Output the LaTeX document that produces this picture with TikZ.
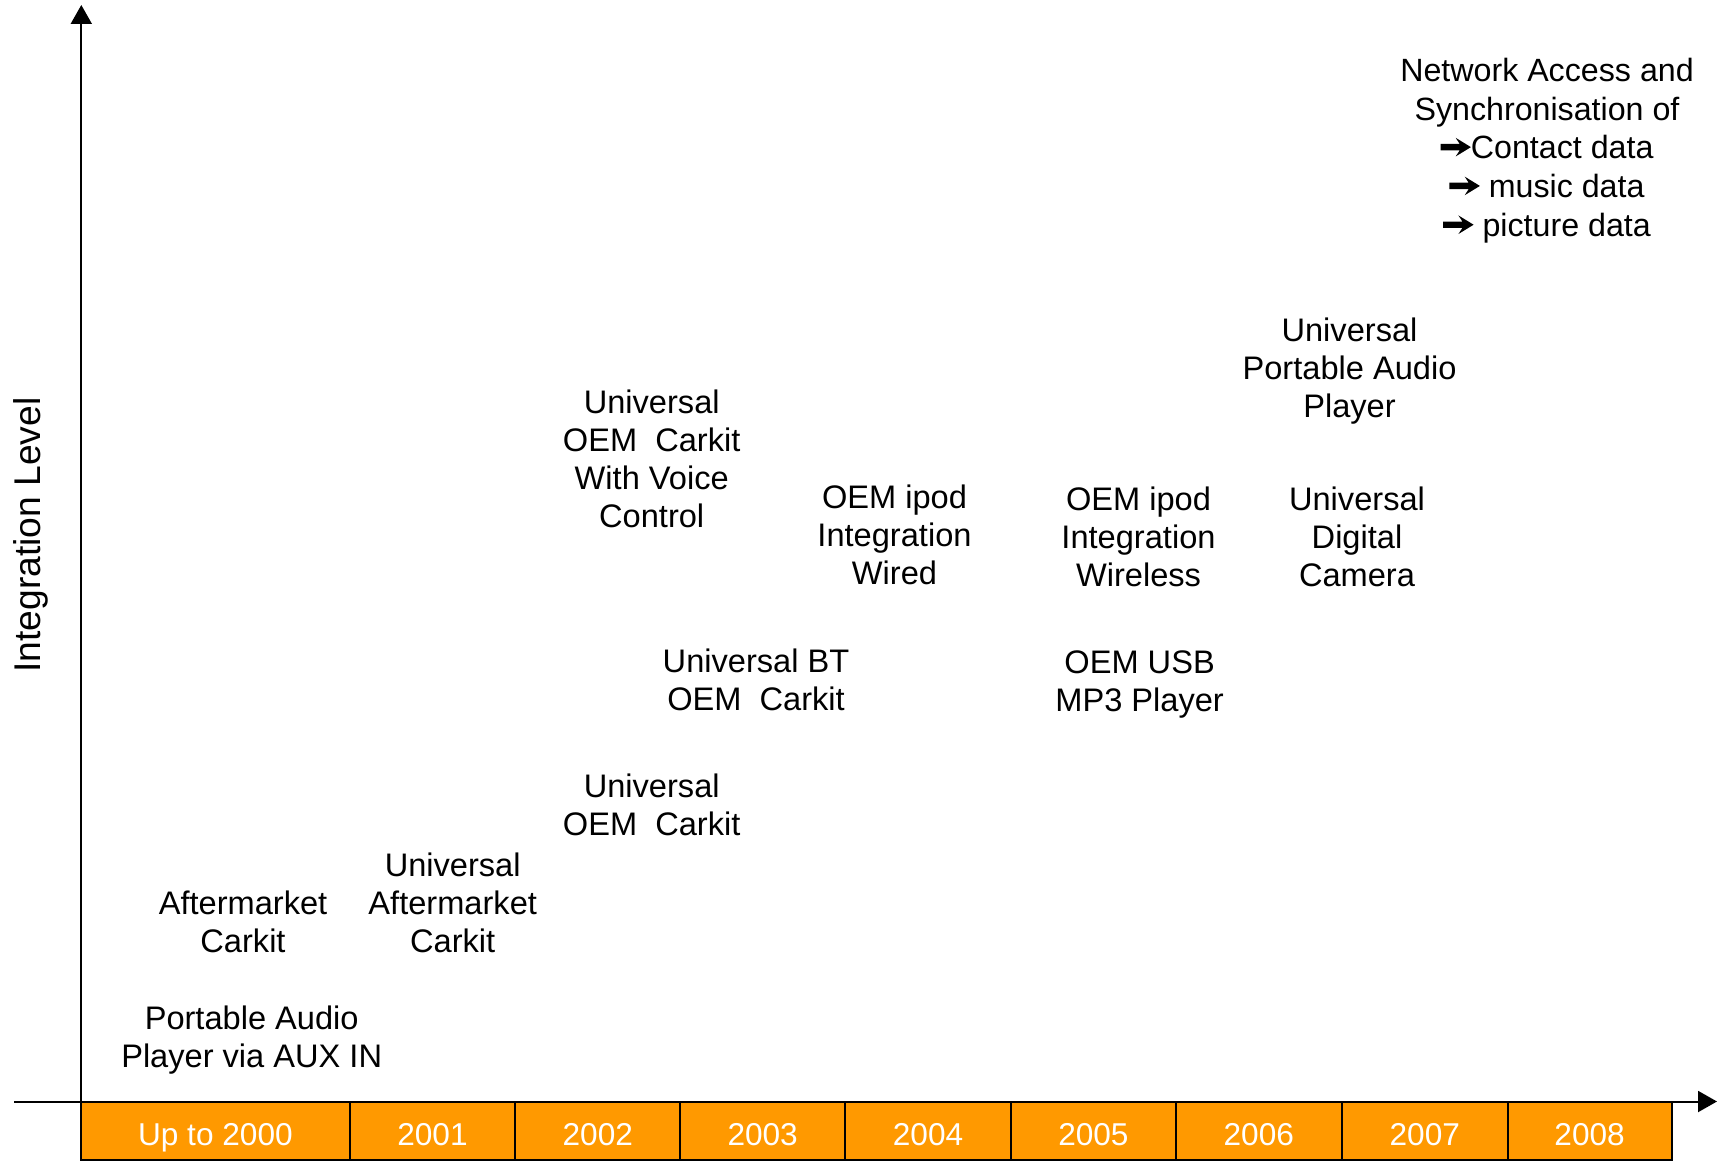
\documentclass[tikz,border=0pt]{standalone}
\usepackage{fontspec}
\setmainfont{Liberation Sans}
\usetikzlibrary{arrows.meta}
\definecolor{barorange}{HTML}{FF9900}
\tikzset{
  lbl/.style={align=center, inner sep=0pt, font=\fontsize{16.3}{19}\selectfont},
  yr/.style={inner sep=0pt, text=white, text height=0.72em, text depth=0pt, font=\fontsize{15.8}{19}\selectfont},
  axis/.style={line width=1pt, -{Triangle[length=9.5pt,width=10.5pt]}},
  cell/.style={fill=barorange, draw=black, line width=1pt}
}
\newcommand{\harr}{\tikz[baseline=0pt]{\fill[black] (0pt,4.25pt) -- (9.6pt,4.25pt) -- (7.6pt,1.2pt) -- (15.2pt,5.85pt) -- (7.6pt,10.5pt) -- (9.6pt,7.45pt) -- (0pt,7.45pt) -- cycle;}}
\begin{document}
\begin{tikzpicture}[x=0.5pt,y=-0.5pt]
\useasboundingbox (0,0) rectangle (1723,1161);
% bar
\foreach \a/\b/\t/\n in {81.3/349.5/Up to 2000/c0, 349.5/515.4/2001/c1, 515.4/680.2/2002/c2, 680.2/845.1/2003/c3, 845.1/1011/2004/c4, 1011/1175.8/2005/c5, 1175.8/1341.8/2006/c6, 1341.8/1507.7/2007/c7, 1507.7/1671.5/2008/c8}{
  \draw[cell] (\a,1101.5) rectangle (\b,1160);
  \node[yr] (\n) at ({(\a+\b)/2},1138) {\t};
}
% axes
\coordinate (o) at (81.3,1101.5);
\coordinate (xs) at (14,1101.5);
\coordinate (xe) at (1717,1101.5);
\coordinate (ye) at (81.3,5);
\draw[axis] (xs) -- (xe);
\draw[axis] (o) -- (ye);
\node[inner sep=0pt, rotate=90, font=\fontsize{18.6}{22}\selectfont] (ylab) at (31,535) {Integration Level};
% labels
\node[lbl] (pap) at (251.7,1040) {Portable Audio\\Player via AUX IN};
\node[lbl] (amc) at (243,921.8) {Aftermarket\\Carkit};
\node[lbl] (uamc) at (452.7,903) {Universal\\Aftermarket\\Carkit};
\node[lbl] (uoc) at (651.7,804.4) {Universal\\OEM\ \ Carkit};
\node[lbl] (ubt) at (756,680) {Universal BT\\OEM\ \ Carkit};
\node[lbl] (uvc) at (651.7,458.8) {Universal\\OEM\ \ Carkit\\With Voice\\Control};
\node[lbl] (ipw) at (894.5,535) {OEM ipod\\Integration\\Wired};
\node[lbl] (ipwl) at (1138.5,537) {OEM ipod\\Integration\\Wireless};
\node[lbl] (usb) at (1139.6,684) {OEM USB\\MP3 Player};
\node[lbl] (udc) at (1357,537) {Universal\\Digital\\Camera};
\node[lbl] (upap) at (1349.5,371.5) {Universal\\Portable Audio\\Player};
\node[lbl, font=\fontsize{16.1}{19.4}\selectfont] (net) at (1547,150.5) {Network Access and\\Synchronisation of\\\harr Contact data\\\harr\ music data\\\harr\ picture data};
\end{tikzpicture}
\end{document}
